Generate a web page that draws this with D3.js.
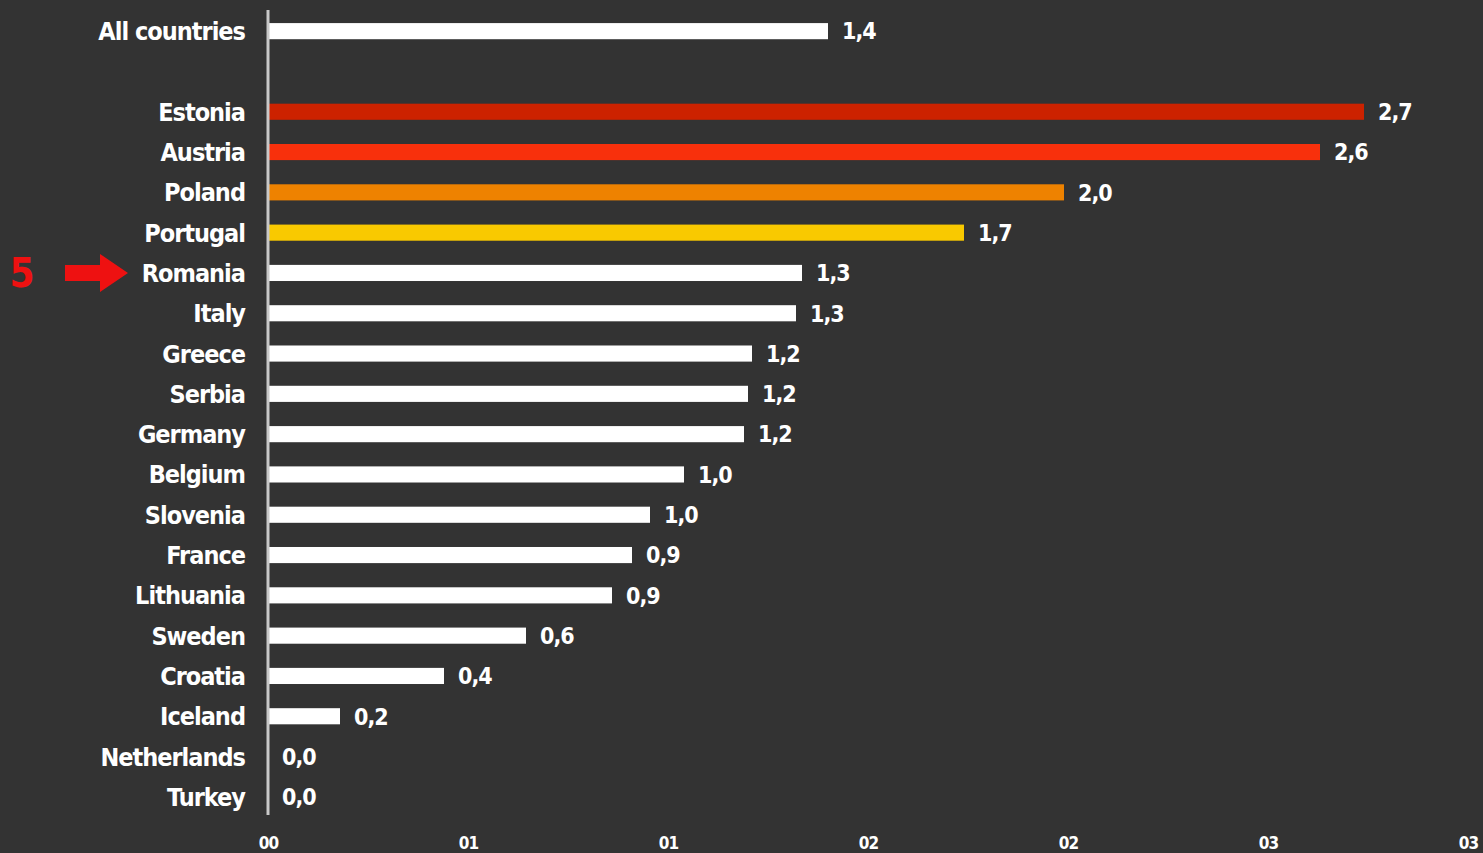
<!DOCTYPE html>
<html>
<head>
<meta charset="utf-8">
<script src="https://cdn.jsdelivr.net/npm/d3@7"></script>
<style>
  body { margin: 0; background: #333333; }
  svg { display: block; }
  text { font-family: "Liberation Sans Narrow", "Arial Narrow", "DejaVu Sans Condensed", sans-serif; font-weight: bold; fill: #ffffff; }
</style>
</head>
<body>
<svg id="plot"></svg>
<script>
let countries = ["All countries", "gap", "Estonia", "Austria", "Poland", "Portugal", "Romania", "Italy", "Greece", "Serbia", "Germany", "Belgium", "Slovenia", "France", "Lithuania", "Sweden", "Croatia", "Iceland", "Netherlands", "Turkey"]
let values = [1.40, null, 2.74, 2.63, 1.99, 1.74, 1.335, 1.32, 1.21, 1.2, 1.19, 1.04, 0.955, 0.91, 0.86, 0.645, 0.44, 0.18, 0, 0]
let colors = ["#ffffff", null, "#cc2200", "#f8300c", "#ee8200", "#f9c900", "#ffffff", "#ffffff", "#ffffff", "#ffffff", "#ffffff", "#ffffff", "#ffffff", "#ffffff", "#ffffff", "#ffffff", "#ffffff", "#ffffff", "#ffffff", "#ffffff"]
let tick_values = [0, 0.5, 1, 1.5, 2, 2.5, 3]

let svgwidth = 1483, svgheight = 853;
let svg = d3.select("#plot").attr("width", svgwidth).attr("height", svgheight)

let margin_left = 268, margin_top = 11;
let plot_width = 1200;

let data = countries.map((c, i) => ({name: c, value: values[i], color: colors[i]}))

let x_scale = d3.scaleLinear([0, 3], [margin_left, margin_left + plot_width])
let y_scale = d3.scaleBand(countries, [margin_top, margin_top + 40.3 * 20]).paddingInner(0.6).paddingOuter(0.3)

let rows = data.filter(d => d.value !== null)

svg.selectAll("rect.bar")
.data(rows)
.join("rect")
.attr("class", "bar")
.attr("x", x_scale(0))
.attr("y", d => y_scale(d.name))
.attr("width", d => x_scale(d.value) - x_scale(0))
.attr("height", y_scale.bandwidth())
.attr("fill", d => d.color)

// vertical axis line
svg.append("line")
.attr("x1", x_scale(0)).attr("x2", x_scale(0))
.attr("y1", 10).attr("y2", 815)
.attr("stroke", "#c8c8c8")
.attr("stroke-width", 3)

let fmt = d3.format(".1f")

svg.selectAll("text.val")
.data(rows)
.join("text")
.attr("class", "val")
.attr("x", d => x_scale(d.value) + 14)
.attr("y", d => y_scale(d.name) + y_scale.bandwidth() / 2)
.attr("dy", "0.36em")
.attr("font-size", 23)
.attr("letter-spacing", -1)
.text(d => fmt(d.value).replace(".", ","))

svg.selectAll("text.name")
.data(rows)
.join("text")
.attr("class", "name")
.attr("x", x_scale(0) - 23)
.attr("y", d => y_scale(d.name) + y_scale.bandwidth() / 2)
.attr("dy", "0.36em")
.attr("text-anchor", "end")
.attr("font-size", 25)
.attr("letter-spacing", -1)
.text(d => d.name)

// x axis with only tick labels
let gx = svg.append("g")
.attr("transform", `translate(0,834)`)
.call(d3.axisBottom(x_scale).tickValues(tick_values).tickFormat(d3.format("02.0f")).tickSize(0))
gx.select(".domain").remove()
gx.selectAll("text")
.attr("font-size", 17)
.attr("font-family", null)
.attr("letter-spacing", -1)
.attr("fill", "#ffffff")

// annotation: rank arrow pointing at Romania
let ry = y_scale("Romania") + y_scale.bandwidth() / 2
svg.append("text")
.attr("x", 22)
.attr("y", ry)
.attr("dy", "0.36em")
.attr("text-anchor", "middle")
.attr("font-family", "'Liberation Sans', sans-serif")
.attr("font-size", 40)
.style("fill", "#ee1111")
.text("5")

svg.append("path")
.attr("d", `M65,${ry - 8} L100,${ry - 8} L100,${ry - 19} L128,${ry} L100,${ry + 19} L100,${ry + 8} L65,${ry + 8} Z`)
.attr("fill", "#ee1111")
</script>
</body>
</html>
